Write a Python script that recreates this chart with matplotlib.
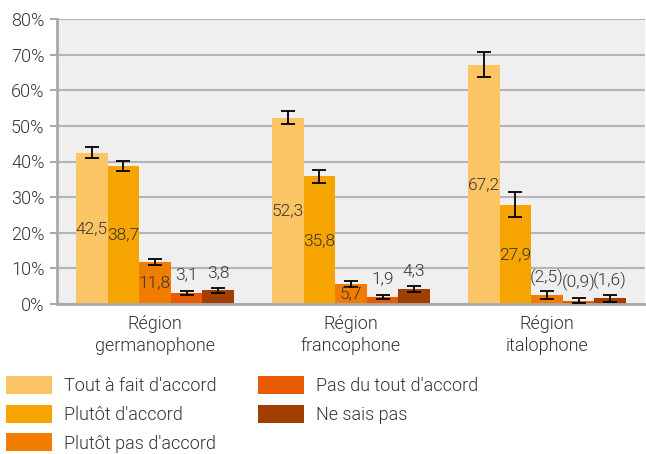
import matplotlib
matplotlib.use("Agg")
import matplotlib.pyplot as plt
from matplotlib.patches import Patch
import numpy as np

plt.rcParams['font.family'] = ['Roboto', 'DejaVu Sans']
plt.rcParams['font.weight'] = 300

regions = ["Région\ngermanophone", "Région\nfrancophone", "Région\nitalophone"]
series = ["Tout à fait d'accord", "Plutôt d'accord", "Plutôt pas d'accord",
          "Pas du tout d'accord", "Ne sais pas"]
values = [
    [42.5, 52.3, 67.2],
    [38.7, 35.8, 27.9],
    [11.8, 5.7, 2.5],
    [3.1, 1.9, 0.9],
    [3.8, 4.3, 1.6],
]
errors = [
    [1.5, 1.8, 3.6],
    [1.4, 1.7, 3.4],
    [0.9, 0.8, 1.1],
    [0.5, 0.6, 0.7],
    [0.6, 0.8, 1.0],
]
labels = [
    ["42,5", "52,3", "67,2"],
    ["38,7", "35,8", "27,9"],
    ["11,8", "5,7", "(2,5)"],
    ["3,1", "1,9", "(0,9)"],
    ["3,8", "4,3", "(1,6)"],
]
colors = ["#FBC465", "#F5A400", "#F07D00", "#E85B00", "#A03F00"]
yticks = [0, 10, 20, 30, 40, 50, 60, 70, 80]

TXT = "#333333"
fig = plt.figure(figsize=(6.46, 4.54), dpi=100)
ax = fig.add_axes([57/646, 1 - 304/454, 588/646, 285/454])
ax.set_facecolor("#EFEFEF")

x = np.arange(len(regions))
w = 0.161
for i, (vals, errs, labs, c) in enumerate(zip(values, errors, labels, colors)):
    pos = x + (i - 2) * w
    ax.bar(pos, vals, width=w, color=c, zorder=2, linewidth=0)
    ax.errorbar(pos, vals, yerr=errs, fmt="none", ecolor="black",
                elinewidth=1.3, capsize=5, capthick=1.3, zorder=3)
    for px, v, lab in zip(pos, vals, labs):
        if v >= 5:
            ax.text(px, v / 2, lab, ha="center", va="center", fontsize=12.5,
                    color=TXT, fontweight=300, zorder=4)
        else:
            ax.annotate(lab, (px, v), xytext=(0, 13), textcoords="offset points",
                        ha="center", va="center", fontsize=12.5,
                        color=TXT, fontweight=300, zorder=4)

ax.set_xlim(-0.5, 2.5)
ax.set_ylim(0, 80)
ax.set_yticks(yticks)
ax.set_yticklabels([f"{t}%" for t in yticks], fontsize=13, color=TXT,
                   fontweight=300)
ax.set_xticks(x)
ax.set_xticklabels(regions, fontsize=13, color=TXT, fontweight=300,
                   linespacing=1.25)
ax.tick_params(axis="x", length=0, pad=8)
ax.tick_params(axis="y", length=5, color="#AAAAAA", width=1.5, pad=4)
ax.yaxis.grid(True, color="#B4B4B4", linewidth=1.5, zorder=1)
ax.set_axisbelow(True)
for s in ["top", "right"]:
    ax.spines[s].set_visible(False)
for s in ["left", "bottom"]:
    ax.spines[s].set_color("#AAAAAA")
    ax.spines[s].set_linewidth(2)

handles = [Patch(facecolor=c, edgecolor="none") for c in colors]
fig.legend(handles, series,
           loc="upper left", bbox_to_anchor=(6/646, 1 - 376/454), ncol=2,
           frameon=False, handlelength=2.55, handleheight=1.16,
           handletextpad=0.66, columnspacing=2.3, labelspacing=0.53,
           borderaxespad=0, borderpad=0,
           prop={"size": 13, "weight": 300}, labelcolor=TXT)

fig.savefig("out.png", dpi=100)
